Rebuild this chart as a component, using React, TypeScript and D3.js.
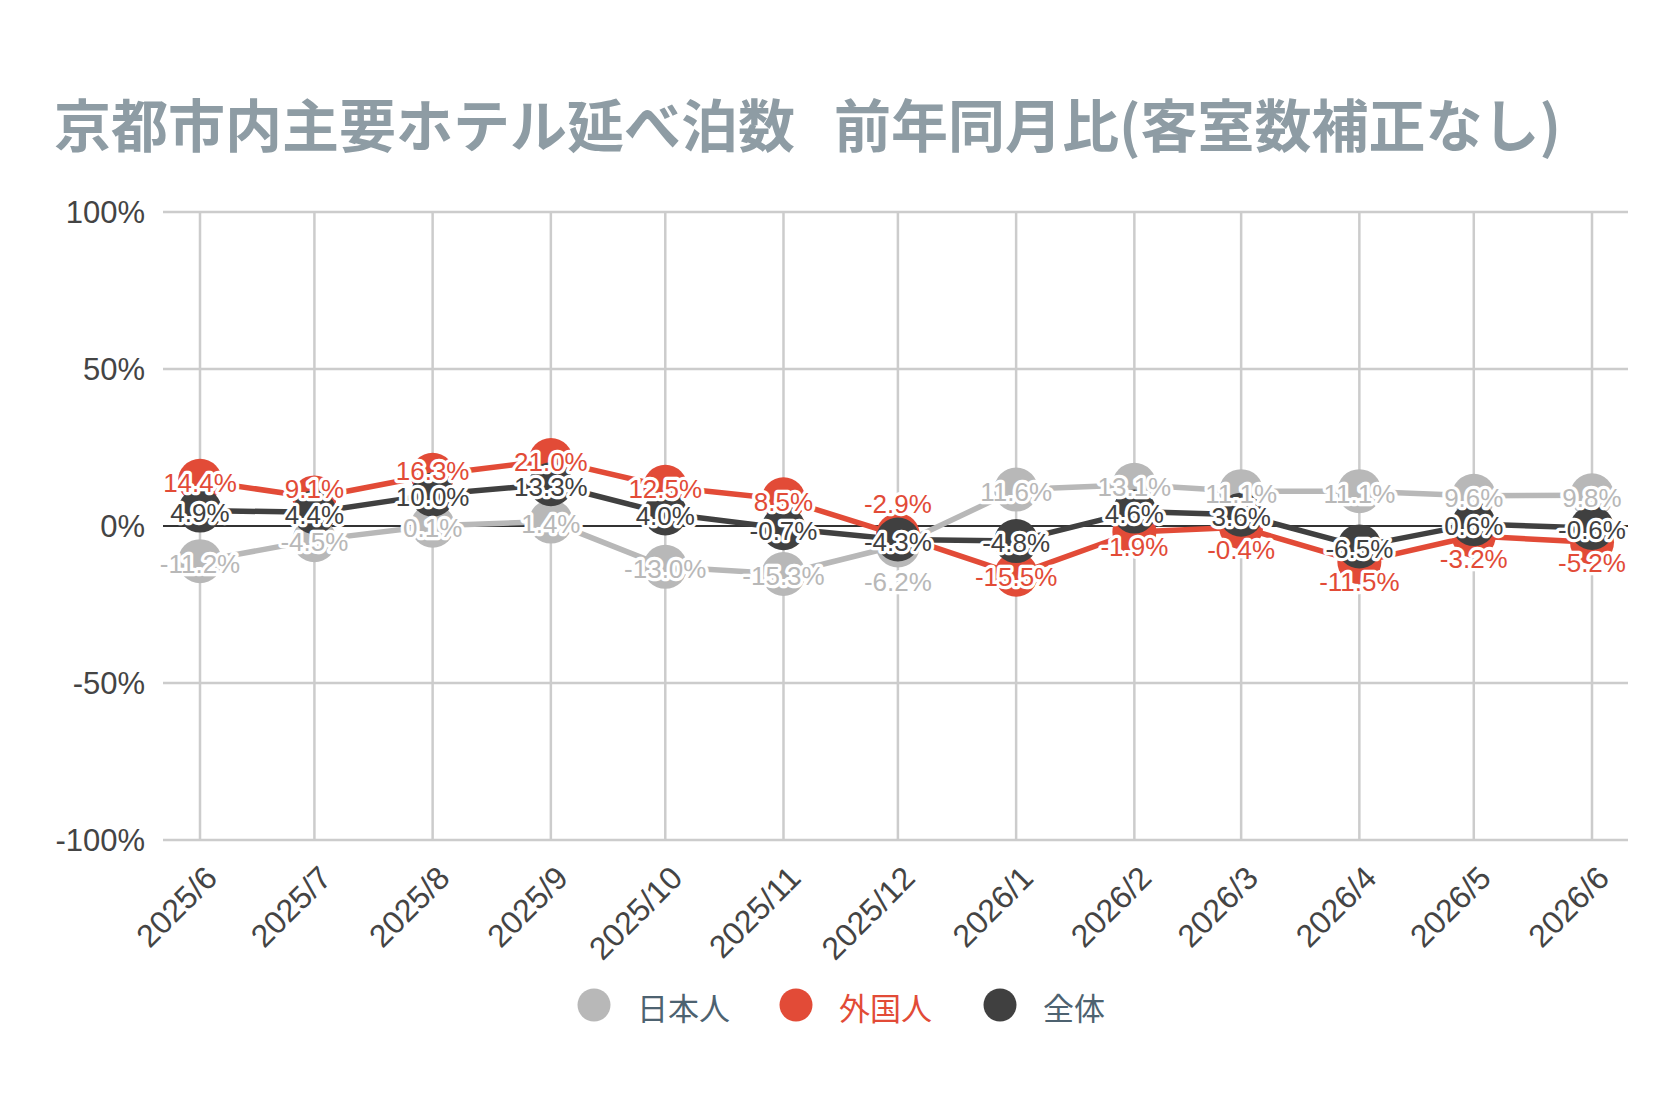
import React from "react";
import * as d3 from "d3";

const months = ["2025/6","2025/7","2025/8","2025/9","2025/10","2025/11","2025/12","2026/1","2026/2","2026/3","2026/4","2026/5","2026/6"];
const japanese = [-11.2, -4.5, 0.1, 1.4, -13.0, -15.3, -6.2, 11.6, 13.1, 11.1, 11.1, 9.6, 9.8];
const foreign = [14.4, 9.1, 16.3, 21.0, 12.5, 8.5, -2.9, -15.5, -1.9, -0.4, -11.5, -3.2, -5.2];
const total = [4.9, 4.4, 10.0, 13.3, 4.0, -0.7, -4.3, -4.8, 4.6, 3.6, -6.5, 0.6, -0.6];
const yTicks = [-100, -50, 0, 50, 100];
const seriesNames = ["日本人", "外国人", "全体"];
const titleMain = "京都市内主要ホテル延べ泊数";
const titleSub = "前年同月比(客室数補正なし)";

const W = 1680, H = 1120;
const colors = ["#b8b8b8", "#e24b37", "#404040"];
const legendTextColors = ["#4d6270", "#e24b37", "#4d6270"];
const latin = "'Liberation Sans', Arial, sans-serif";
const cjk = "'Noto Sans CJK JP', sans-serif";

const parseMonth = (s: string) => {
  const [yy, mm] = s.split("/").map(Number);
  return new Date(yy, mm - 1, 1);
};
const dates = months.map(parseMonth);

const x = d3.scaleTime().domain([dates[0], dates[dates.length - 1]]).range([200, 1592]);
const y = d3.scaleLinear().domain([-100, 100]).range([840, 212]);
const plotLeft = 163, plotRight = 1628;

export default function App() {
  const series = [japanese, foreign, total];
  const line = d3.line<number>().x((_, i) => x(dates[i])).y((v) => y(v));

  // label layout: total labels stay centred; others pushed away when colliding
  const labelY: number[][] = [[], [], []];
  dates.forEach((_, i) => {
    const yT = y(total[i]);
    labelY[2][i] = yT;
    const others = [0, 1];
    const colliding = others.filter((s) => Math.abs(y(series[s][i]) - yT) < 22);
    const many = colliding.length > 1;
    others.forEach((s) => {
      let ly = y(series[s][i]);
      const d = ly - yT;
      if (Math.abs(d) < 22) {
        ly = d < 0 ? yT - (many ? 38 : 26) : yT + (many ? 40 : 33);
      }
      labelY[s][i] = ly;
    });
  });

  const legendX = [594, 796, 1000];

  return (
    <svg width={W} height={H} style={{ position: "absolute", left: 0, top: 0, background: "#fff" }}>
      <text x={54} y={122} dominantBaseline="central" fontFamily={cjk} fontWeight={700} fontSize={57} fill="#8e9ca4">
        {titleMain}
        <tspan dx={26}>{" " + titleSub}</tspan>
      </text>

      {/* grid */}
      {yTicks.filter((t) => t !== 0).map((t) => (
        <line key={"h" + t} x1={plotLeft} x2={plotRight} y1={y(t)} y2={y(t)} stroke="#cccccc" strokeWidth={2.5} />
      ))}
      {dates.map((d, i) => (
        <line key={"v" + i} x1={x(d)} x2={x(d)} y1={y(100)} y2={y(-100)} stroke="#cccccc" strokeWidth={2.5} />
      ))}
      <line x1={plotLeft} x2={plotRight} y1={y(0)} y2={y(0)} stroke="#333333" strokeWidth={2} />

      {/* y labels */}
      {yTicks.map((t) => (
        <text key={"yl" + t} x={145} y={y(t)} dy="0.36em" textAnchor="end" fontFamily={latin} fontSize={31} fill="#444444">
          {t + "%"}
        </text>
      ))}

      {/* x labels */}
      {dates.map((d, i) => (
        <text key={"xl" + i} transform={`translate(${x(d) + 19},${880}) rotate(-45)`} textAnchor="end" fontFamily={latin} fontSize={32} fill="#444444">
          {months[i]}
        </text>
      ))}

      {/* lines */}
      {series.map((s, k) => (
        <path key={"l" + k} d={line(s) || ""} fill="none" stroke={colors[k]} strokeWidth={5.5} strokeLinejoin="round" />
      ))}

      {/* markers */}
      {series.map((s, k) =>
        s.map((v, i) => <circle key={"m" + k + "-" + i} cx={x(dates[i])} cy={y(v)} r={22} fill={colors[k]} />)
      )}

      {/* labels */}
      {series.map((s, k) =>
        s.map((v, i) => (
          <text
            key={"t" + k + "-" + i}
            x={x(dates[i])}
            y={labelY[k][i] + 2}
            dy="0.36em"
            textAnchor="middle"
            fontFamily={latin}
            fontSize={26}
            fill={colors[k]}
            stroke="#ffffff"
            strokeWidth={6.5}
            strokeLinejoin="round"
            paintOrder="stroke"
          >
            {v.toFixed(1) + "%"}
          </text>
        ))
      )}

      {/* legend */}
      {seriesNames.map((n, k) => (
        <g key={"lg" + k}>
          <circle cx={legendX[k]} cy={1005} r={16.5} fill={colors[k]} />
          <text x={legendX[k] + 43} y={1006} dominantBaseline="central" fontFamily={cjk} fontSize={31} fill={legendTextColors[k]}>
            {n}
          </text>
        </g>
      ))}
    </svg>
  );
}
